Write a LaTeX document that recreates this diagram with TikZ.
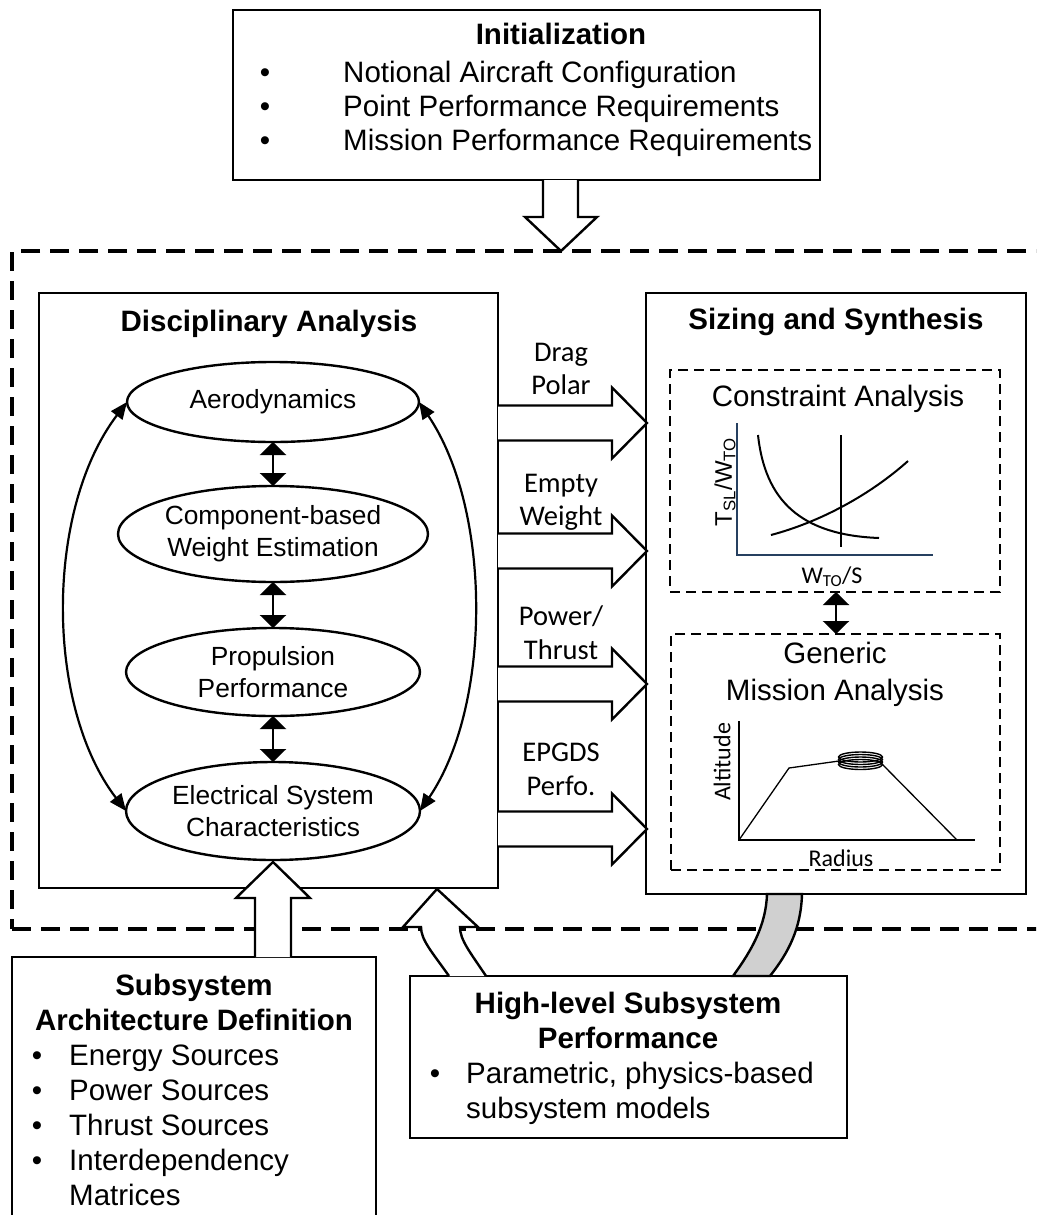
\documentclass[tikz,border=0pt]{standalone}
\usepackage{fontspec}
\setmainfont{Liberation Sans}
\newfontfamily\calib{Carlito}
\usetikzlibrary{arrows.meta,shapes.geometric}
\definecolor{axisblue}{RGB}{38,64,96}
\definecolor{bandgray}{RGB}{208,208,208}
\begin{document}
\begin{tikzpicture}[x=1pt,y=-1pt,
  box/.style={draw,line width=2.6pt,fill=white,inner sep=0pt,outer sep=0pt},
  frame/.style={draw,line width=4pt,dash pattern=on 19pt off 10pt,inner sep=0pt,outer sep=0pt},
  subframe/.style={draw,line width=2.2pt,dash pattern=on 10pt off 6pt,inner sep=0pt,outer sep=0pt},
  disc/.style={draw,ellipse,fill=white,line width=2.4pt,inner sep=0pt,outer sep=0pt,align=center,
    font=\fontsize{26.3}{32}\selectfont},
  blockarrow/.style={draw,fill=white,line width=2.4pt,line join=miter},
  pairarrow/.style={line width=2.4pt,{Triangle[length=13pt,width=26pt]}-{Triangle[length=13pt,width=26pt]}},
  loop/.style={line width=2.2pt,{Triangle[length=17pt,width=14pt]}-{Triangle[length=17pt,width=14pt]}},
  txt/.style={inner sep=0pt,anchor=base west,font=\fontsize{29.5}{34}\selectfont},
  ttl/.style={inner sep=0pt,anchor=base,font=\fontsize{29.5}{34}\selectfont\bfseries},
  ctr/.style={inner sep=0pt,anchor=base,font=\fontsize{29.5}{34}\selectfont},
  dot/.style={inner sep=0pt,anchor=base,font=\fontsize{29.5}{34}\selectfont},
  lbl/.style={inner sep=0pt,anchor=base,font=\calib\fontsize{28.5}{33}\selectfont},
  plotlbl/.style={inner sep=0pt,font=\calib\fontsize{24}{28}\selectfont},
]
\useasboundingbox (0,0) rectangle (1036,1215);
\clip (0,0) rectangle (1036,1215);

% outer dashed frame (runs past the right edge)
\node[frame,minimum width=1038pt,minimum height=678pt] (loopframe) at (531,590) {};

% initialization box
\node[box,minimum width=587pt,minimum height=170pt] (init) at (526.5,95) {};
\node[ttl] (inittitle) at (561,45) {Initialization};
\node[dot] (ib1) at (265,82) {•};
\node[txt] (it1) at (343,82) {Notional Aircraft Configuration};
\node[dot] (ib2) at (265,116) {•};
\node[txt] (it2) at (343,116) {Point Performance Requirements};
\node[dot] (ib3) at (265,150) {•};
\node[txt] (it3) at (343,150) {Mission Performance Requirements};

% arrow from initialization into the loop
\draw[blockarrow] (543,180) -- (543,217) -- (525,217) -- (561,251) -- (597,217) -- (578,217) -- (578,180);

% disciplinary analysis
\node[box,minimum width=459pt,minimum height=595pt] (discbox) at (268.5,590.5) {};
\node[ttl] (disctitle) at (269,331) {Disciplinary Analysis};
\node[disc,minimum width=292pt,minimum height=80pt] (aero) at (273,402) {Aerodynamics};
\node[disc,minimum width=310pt,minimum height=96pt] (comp) at (273,534) {Component-based\\Weight Estimation};
\node[disc,minimum width=294pt,minimum height=88pt] (prop) at (273,672) {Propulsion\\Performance};
\node[disc,minimum width=294pt,minimum height=98pt] (elec) at (273,811) {Electrical System\\Characteristics};
\draw[pairarrow] (aero.south) -- (comp.north);
\draw[pairarrow] (comp.south) -- (prop.north);
\draw[pairarrow] (prop.south) -- (elec.north);
\draw[loop] (elec.west) .. controls (45,705) and (45,510) .. (aero.west);
\draw[loop] (elec.east) .. controls (492,705) and (492,510) .. (aero.east);

% sizing and synthesis
\node[box,minimum width=380pt,minimum height=601pt] (sizebox) at (836,593.5) {};
\node[ttl] (sizetitle) at (836,329) {Sizing and Synthesis};
\node[subframe,minimum width=330pt,minimum height=222pt] (cons) at (835,481) {};
\node[ctr] (constitle) at (838,406) {Constraint Analysis};
\node[subframe,minimum width=329pt,minimum height=236pt] (miss) at (835.5,752) {};
\node[ctr] (misstitleA) at (835,663) {Generic};
\node[ctr] (misstitleB) at (835,700) {Mission Analysis};
\draw[pairarrow] (cons.south -| 836,0) -- (miss.north -| 836,0);

% constraint diagram
\draw[axisblue,line width=2pt] (737,423) -- (737,555) -- (933,555);
\draw[line width=2pt] (758,435) .. controls (765,500) and (800,535) .. (879,538);
\draw[line width=2pt] (771,535) .. controls (820,522) and (870,495) .. (908,461);
\draw[line width=2pt] (841,435) -- (841,547);
\node[inner sep=0pt,rotate=90,font=\fontsize{24}{28}\selectfont] (tw) at (725,482) {T\textsubscript{SL}/W\textsubscript{TO}};
\node[plotlbl,anchor=base] (ws) at (832,583) {W\textsubscript{TO}/S};

% mission profile
\draw[line width=1.3pt] (739,721) -- (739,840) -- (975,840);
\draw[line width=1.3pt] (739,840) -- (789,768) -- (839,761);
\draw[line width=1.3pt] (882,764) -- (957,840);
\foreach \k in {0,1,2,3}
  \draw[line width=1.4pt] (860.5,{757+2.5*\k}) ellipse [x radius=22pt,y radius=5pt];
\node[plotlbl,rotate=90] (alt) at (722,762) {Altitude};
\node[plotlbl,anchor=base] (rad) at (841,866) {Radius};

% data passed from analysis to sizing
\foreach \c in {423,551,684,829}
  \draw[blockarrow] (498,{\c-17.5}) -- (612,{\c-17.5}) -- (612,{\c-35.5}) -- (647,\c)
    -- (612,{\c+35.5}) -- (612,{\c+17.5}) -- (498,{\c+17.5});
\node[lbl] (l1a) at (561,361) {Drag};
\node[lbl] (l1b) at (561,394) {Polar};
\node[lbl] (l2a) at (561,492) {Empty};
\node[lbl] (l2b) at (561,525) {Weight};
\node[lbl] (l3a) at (561,625) {Power/};
\node[lbl] (l3b) at (561,659) {Thrust};
\node[lbl] (l4a) at (561,761) {EPGDS};
\node[lbl] (l4b) at (561,795) {Perfo.};

% subsystem architecture definition
\node[box,minimum width=364pt,minimum height=283pt] (arch) at (194,1098.5) {};
\node[ttl] (archtA) at (194,995) {Subsystem};
\node[ttl] (archtB) at (194,1030) {Architecture Definition};
\node[dot] (ab1) at (37,1065) {•};
\node[txt] (at1) at (69,1065) {Energy Sources};
\node[dot] (ab2) at (37,1100) {•};
\node[txt] (at2) at (69,1100) {Power Sources};
\node[dot] (ab3) at (37,1135) {•};
\node[txt] (at3) at (69,1135) {Thrust Sources};
\node[dot] (ab4) at (37,1170) {•};
\node[txt] (at4) at (69,1170) {Interdependency};
\node[txt] (at5) at (69,1205) {Matrices};
\draw[blockarrow] (255,957) -- (255,898) -- (236,898) -- (273,862) -- (310,898) -- (291,898) -- (291,957);

% high-level subsystem performance
\node[box,minimum width=437pt,minimum height=162pt] (perf) at (628.5,1057) {};
\node[ttl] (perftA) at (628,1013) {High-level Subsystem};
\node[ttl] (perftB) at (628,1048) {Performance};
\node[dot] (pb1) at (435,1083) {•};
\node[txt] (pt1) at (466,1083) {Parametric, physics-based};
\node[txt] (pt2) at (466,1118) {subsystem models};
\draw[blockarrow] (449,976) .. controls (432,952) and (421,940) .. (421,927) -- (403,927) -- (437,889)
  -- (478,927) -- (460,927) .. controls (460,940) and (470,952) .. (486,976);
\draw[line width=2.4pt,fill=bandgray] (767,894) .. controls (766,925) and (752,950) .. (733,976)
  -- (770,976) .. controls (789,952) and (801,928) .. (802,894) -- cycle;
\end{tikzpicture}
\end{document}
